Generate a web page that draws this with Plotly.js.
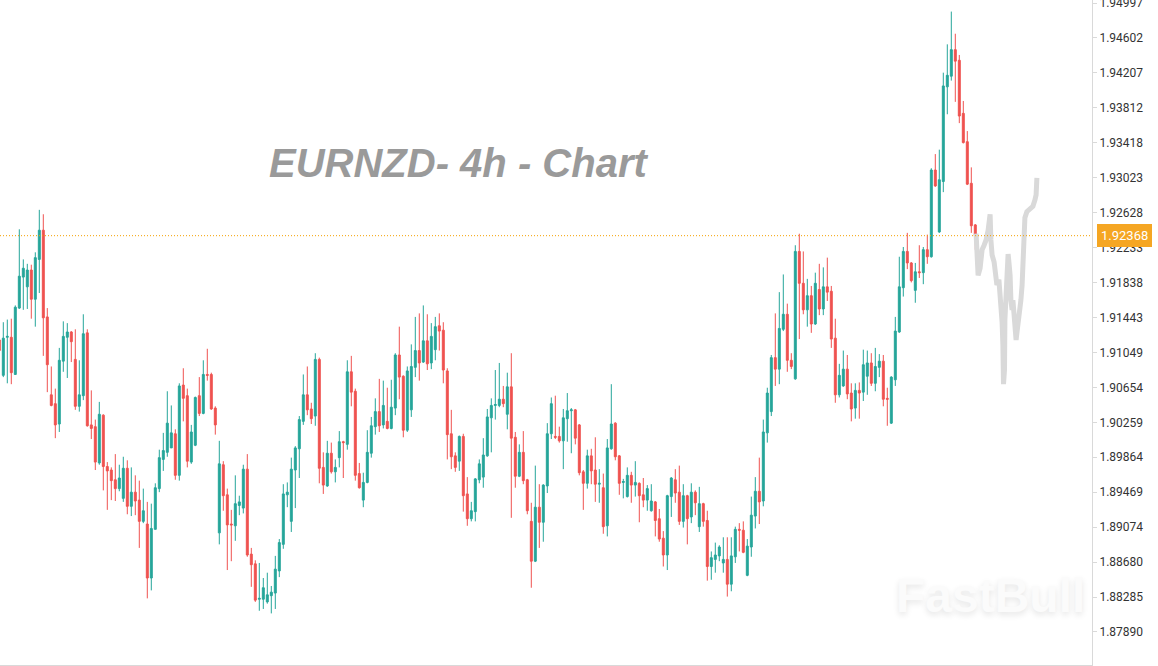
<!DOCTYPE html>
<html>
<head>
<meta charset="utf-8">
<script src="https://cdn.plot.ly/plotly-3.0.1.min.js"></script>
<style>
  html, body { margin: 0; padding: 0; background: #ffffff; }
  #chart { width: 1158px; height: 666px; }
</style>
</head>
<body>
<div id="chart"></div>
<script>
// EURNZD 4h candles (left to right)
const openP = [1.9119,1.9079,1.9122,1.9122,1.9080,1.9155,1.9190,1.9179,1.9198,1.9165,
1.9210,1.9243,1.9145,1.9057,1.9047,1.9024,1.9095,1.9122,1.9128,1.9097,
1.9044,1.9056,1.9127,1.9023,1.9021,1.8980,1.9034,1.8976,1.8972,1.8961,
1.8951,1.8940,1.8974,1.8931,1.8947,1.8938,1.8914,1.8911,1.8850,1.8905,
1.8951,1.8984,1.8992,1.8997,1.9013,1.8966,1.9068,1.9056,1.8981,1.9000,
1.9056,1.9036,1.9080,1.9080,1.9042,1.8901,1.8978,1.8944,1.8911,1.8909,
1.8932,1.8929,1.8973,1.8877,1.8866,1.8826,1.8826,1.8823,1.8830,1.8833,
1.8858,1.8888,1.8944,1.8914,1.8972,1.8996,1.9027,1.9057,1.9041,1.9033,
1.9097,1.8975,1.8954,1.8991,1.8970,1.8986,1.9004,1.9001,1.9083,1.9061,
1.8968,1.8938,1.8958,1.8991,1.9021,1.9038,1.9023,1.9027,1.9019,1.9042,
1.9102,1.9078,1.9017,1.9040,1.9088,1.9107,1.9094,1.9118,1.9093,1.9108,
1.9135,1.9130,1.9084,1.9013,1.8988,1.8982,1.9010,1.8945,1.8917,1.8925,
1.8961,1.8964,1.8988,1.9031,1.9045,1.9045,1.9052,1.9035,1.9066,1.9009,
1.8965,1.8992,1.8961,1.8914,1.8869,1.8930,1.8913,1.8954,1.9013,1.9010,
1.9010,1.9005,1.9030,1.9039,1.9040,1.9023,1.8970,1.8957,1.8988,1.8972,
1.8956,1.8952,1.8909,1.8996,1.9025,1.8988,1.8958,1.8942,1.8966,1.8955,
1.8957,1.8944,1.8938,1.8926,1.8936,1.8917,1.8895,1.8876,1.8942,1.8961,
1.8947,1.8914,1.8943,1.8919,1.8947,1.8908,1.8934,1.8915,1.8863,1.8871,
1.8875,1.8867,1.8871,1.8843,1.8874,1.8905,1.8904,1.8853,1.8885,1.8920,
1.8948,1.8937,1.9014,1.9038,1.9099,1.9086,1.9131,1.9148,1.9096,1.9075,
1.9219,1.9183,1.9153,1.9169,1.9137,1.9176,1.9154,1.9179,1.9174,1.9121,
1.9057,1.9067,1.9086,1.9059,1.9042,1.9062,1.9060,1.9078,1.9093,1.9070,
1.9088,1.9095,1.9053,1.9025,1.9074,1.9128,1.9178,1.9219,1.9206,1.9175,
1.9196,1.9195,1.9221,1.9213,1.9311,1.9241,1.9298,1.9405,1.9417,1.9447,
1.9435,1.9375,1.9343,1.9296,1.9249];

const highP = [1.9125,1.9139,1.9142,1.9143,1.9158,1.9244,1.9210,1.9205,1.9204,1.9218,
1.9266,1.9261,1.9155,1.9089,1.9064,1.9110,1.9140,1.9138,1.9129,1.9131,
1.9096,1.9148,1.9131,1.9062,1.9029,1.9049,1.9035,1.8981,1.8975,1.8990,
1.8978,1.8987,1.8983,1.8975,1.8966,1.8960,1.8951,1.8936,1.8934,1.8957,
1.8995,1.9014,1.9061,1.9045,1.9018,1.9070,1.9087,1.9064,1.9023,1.9055,
1.9077,1.9096,1.9109,1.9082,1.9044,1.9005,1.8982,1.8951,1.8927,1.8966,
1.8943,1.8978,1.8990,1.8884,1.8870,1.8867,1.8850,1.8856,1.8841,1.8875,
1.8894,1.8956,1.8958,1.8986,1.8999,1.9033,1.9080,1.9089,1.9048,1.9104,
1.9099,1.8992,1.9005,1.9003,1.8984,1.9016,1.9005,1.9096,1.9101,1.9064,
1.8980,1.8969,1.9017,1.9032,1.9053,1.9075,1.9073,1.9065,1.9074,1.9104,
1.9134,1.9079,1.9089,1.9114,1.9145,1.9149,1.9158,1.9148,1.9138,1.9145,
1.9149,1.9139,1.9087,1.9040,1.8992,1.9011,1.9013,1.8964,1.8936,1.8963,
1.8984,1.9008,1.9041,1.9053,1.9085,1.9093,1.9067,1.9082,1.9104,1.9015,
1.9001,1.9016,1.8962,1.8935,1.8977,1.8956,1.8956,1.9025,1.9054,1.9056,
1.9021,1.9041,1.9059,1.9042,1.9041,1.9024,1.8972,1.8995,1.8996,1.9009,
1.8973,1.8968,1.9007,1.9069,1.9026,1.8989,1.8962,1.8975,1.8970,1.8982,
1.8958,1.8963,1.8955,1.8956,1.8937,1.8928,1.8903,1.8944,1.8964,1.8973,
1.8977,1.8956,1.8944,1.8957,1.8949,1.8953,1.8935,1.8926,1.8880,1.8890,
1.8887,1.8896,1.8896,1.8896,1.8908,1.8912,1.8914,1.8894,1.8942,1.8964,
1.8986,1.9029,1.9065,1.9102,1.9149,1.9173,1.9193,1.9160,1.9104,1.9226,
1.9239,1.9219,1.9188,1.9180,1.9195,1.9205,1.9201,1.9212,1.9180,1.9143,
1.9092,1.9107,1.9102,1.9070,1.9070,1.9071,1.9108,1.9107,1.9104,1.9110,
1.9103,1.9102,1.9065,1.9078,1.9145,1.9213,1.9224,1.9240,1.9207,1.9206,
1.9226,1.9224,1.9238,1.9313,1.9329,1.9334,1.9421,1.9453,1.9490,1.9465,
1.9441,1.9389,1.9355,1.9314,1.9250];

const lowP = [1.9101,1.9077,1.9070,1.9069,1.9080,1.9154,1.9153,1.9154,1.9143,1.9134,
1.9172,1.9101,1.9060,1.9044,1.9008,1.9015,1.9083,1.9076,1.9094,1.9040,
1.9038,1.9051,1.9021,1.9007,1.8972,1.8978,1.8949,1.8927,1.8938,1.8937,
1.8948,1.8936,1.8922,1.8920,1.8921,1.8884,1.8912,1.8827,1.8836,1.8905,
1.8947,1.8971,1.8987,1.8997,1.8961,1.8960,1.9027,1.8975,1.8979,1.8999,
1.9033,1.9035,1.9073,1.9040,1.9012,1.8888,1.8926,1.8859,1.8869,1.8892,
1.8921,1.8923,1.8874,1.8840,1.8823,1.8813,1.8815,1.8821,1.8810,1.8815,
1.8851,1.8883,1.8930,1.8902,1.8929,1.8963,1.9023,1.9034,1.9024,1.9022,
1.8957,1.8945,1.8953,1.8968,1.8958,1.8975,1.8963,1.8995,1.9044,1.8960,
1.8951,1.8930,1.8957,1.8986,1.9012,1.9015,1.9019,1.9018,1.9018,1.9034,
1.9052,1.9009,1.9015,1.9032,1.9077,1.9073,1.9093,1.9085,1.9086,1.9096,
1.9107,1.9070,1.8984,1.8973,1.8970,1.8971,1.8925,1.8909,1.8914,1.8914,
1.8957,1.8952,1.8987,1.8992,1.9029,1.9043,1.9043,1.9018,1.8918,1.8952,
1.8964,1.8956,1.8922,1.8839,1.8868,1.8884,1.8891,1.8946,1.9007,1.9007,
1.9003,1.8973,1.9004,1.8991,1.9001,1.8966,1.8927,1.8951,1.8956,1.8936,
1.8935,1.8900,1.8897,1.8995,1.8983,1.8944,1.8940,1.8941,1.8935,1.8942,
1.8913,1.8930,1.8926,1.8925,1.8897,1.8891,1.8863,1.8859,1.8919,1.8935,
1.8910,1.8907,1.8888,1.8912,1.8921,1.8902,1.8908,1.8847,1.8848,1.8856,
1.8869,1.8856,1.8829,1.8835,1.8867,1.8880,1.8878,1.8852,1.8874,1.8906,
1.8911,1.8931,1.9003,1.9033,1.9067,1.9069,1.9129,1.9083,1.9086,1.9074,
1.9120,1.9148,1.9134,1.9127,1.9136,1.9147,1.9147,1.9163,1.9110,1.9048,
1.9054,1.9066,1.9052,1.9027,1.9030,1.9030,1.9050,1.9057,1.9067,1.9061,
1.9077,1.9044,1.9022,1.9024,1.9067,1.9127,1.9168,1.9199,1.9184,1.9161,
1.9189,1.9182,1.9205,1.9212,1.9292,1.9240,1.9286,1.9374,1.9412,1.9388,
1.9364,1.9341,1.9294,1.9240,1.9221];

const closeP = [1.9107,1.9121,1.9123,1.9082,1.9156,1.9191,1.9200,1.9198,1.9165,1.9212,
1.9243,1.9144,1.9091,1.9045,1.9023,1.9096,1.9123,1.9128,1.9117,1.9044,
1.9057,1.9126,1.9022,1.9019,1.8981,1.9035,1.8976,1.8971,1.8960,1.8951,
1.8963,1.8974,1.8931,1.8947,1.8937,1.8914,1.8926,1.8850,1.8906,1.8952,
1.8986,1.8994,1.9025,1.9014,1.8966,1.9067,1.9053,1.8982,1.9015,1.9054,
1.9036,1.9080,1.9079,1.9041,1.9023,1.8979,1.8943,1.8910,1.8910,1.8934,
1.8936,1.8973,1.8876,1.8865,1.8825,1.8827,1.8839,1.8831,1.8834,1.8860,
1.8890,1.8945,1.8947,1.8973,1.8997,1.9029,1.9057,1.9040,1.9030,1.9097,
1.8974,1.8955,1.8991,1.8970,1.8975,1.9004,1.9003,1.9083,1.9060,1.8966,
1.8952,1.8958,1.8992,1.9022,1.9038,1.9022,1.9045,1.9019,1.9043,1.9102,
1.9077,1.9017,1.9084,1.9089,1.9107,1.9093,1.9118,1.9092,1.9123,1.9134,
1.9129,1.9085,1.9012,1.8987,1.8975,1.9010,1.8943,1.8917,1.8926,1.8962,
1.8979,1.8989,1.9032,1.9045,1.9046,1.9052,1.9047,1.9066,1.9008,1.8965,
1.8992,1.8960,1.8926,1.8869,1.8930,1.8913,1.8955,1.9013,1.9047,1.9009,
1.9005,1.9031,1.9039,1.9040,1.9008,1.8969,1.8957,1.8988,1.8971,1.8956,
1.8957,1.8908,1.8997,1.9024,1.8987,1.8957,1.8959,1.8966,1.8955,1.8958,
1.8943,1.8938,1.8951,1.8937,1.8915,1.8894,1.8876,1.8943,1.8963,1.8946,
1.8914,1.8943,1.8917,1.8947,1.8935,1.8934,1.8914,1.8863,1.8873,1.8876,
1.8885,1.8871,1.8843,1.8875,1.8905,1.8904,1.8879,1.8886,1.8921,1.8948,
1.8936,1.9015,1.9059,1.9099,1.9086,1.9132,1.9148,1.9096,1.9089,1.9219,
1.9183,1.9153,1.9169,1.9137,1.9183,1.9154,1.9179,1.9173,1.9120,1.9057,
1.9079,1.9086,1.9058,1.9041,1.9062,1.9059,1.9091,1.9093,1.9070,1.9089,
1.9095,1.9052,1.9052,1.9077,1.9129,1.9179,1.9219,1.9206,1.9186,1.9196,
1.9195,1.9221,1.9213,1.9311,1.9293,1.9300,1.9406,1.9418,1.9447,1.9434,
1.9372,1.9342,1.9295,1.9248,1.92368];

// light grey preview path to the right of the last candle (bar positions, prices)
const ghostBar = [244.2,244.4,244.7,245.2,245.7,246.2,246.7,247.2,247.4,247.7,
247.9,248.2,248.7,248.9,249.4,249.9,250.2,250.4,250.7,250.9,
251.05,251.3,251.4,251.7,252.2,252.4,252.7,252.9,253.2,253.4,
253.7,253.9,254.2,254.4,254.7,254.9,255.2,255.4,255.7,255.9,
256.2,256.4,256.9,257.7,258.4,258.9,259.2,259.4];
const ghostPrice = [1.9239,1.9207,1.9192,1.9200,1.9221,1.9226,1.9232,1.9243,1.9261,1.9261,
1.9232,1.9215,1.9207,1.9198,1.9181,1.9187,1.9173,1.9158,1.9139,1.9113,
1.9069,1.9085,1.9142,1.9187,1.9216,1.9207,1.9192,1.9164,1.9153,1.9164,
1.9142,1.9136,1.9119,1.9127,1.9136,1.9142,1.9153,1.9164,1.9181,1.9207,
1.9243,1.9257,1.9264,1.9268,1.9270,1.9277,1.9283,1.9302];

const priceTicks = [1.87890,1.88285,1.88680,1.89074,1.89469,1.89864,1.90259,1.90654,
1.91049,1.91443,1.91838,1.92233,1.92628,1.93023,1.93418,1.93812,1.94207,1.94602,1.94997];

const lastPrice = 1.92368;
const titleText = 'EURNZD- 4h - Chart';
const watermark = 'FastBull';

const barIndex = openP.map((_, i) => i);

const candles = {
  type: 'candlestick',
  x: barIndex,
  open: openP, high: highP, low: lowP, close: closeP,
  increasing: { line: { color: '#26a69a', width: 1 }, fillcolor: '#26a69a' },
  decreasing: { line: { color: '#ef5350', width: 1 }, fillcolor: '#ef5350' },
  whiskerwidth: 0,
  hoverinfo: 'skip',
  showlegend: false
};

const ghost = {
  type: 'scatter', mode: 'lines',
  x: ghostBar, y: ghostPrice,
  line: { color: '#d9d9d9', width: 5, shape: 'linear' },
  hoverinfo: 'skip', showlegend: false
};

const layout = {
  width: 1158, height: 666,
  margin: { l: 0, r: 66, t: 0, b: 1, pad: 0 },
  paper_bgcolor: '#ffffff', plot_bgcolor: '#ffffff',
  showlegend: false,
  xaxis: {
    range: [0.175, 273.175],
    showgrid: false, zeroline: false, showticklabels: false, ticks: '',
    showline: true, linecolor: '#d9d9d9', linewidth: 1,
    rangeslider: { visible: false }, fixedrange: true
  },
  yaxis: {
    side: 'right',
    range: [1.87517, 1.95031],
    tickvals: priceTicks, tickformat: '.5f',
    ticklabeloverflow: 'allow',
    showgrid: false, zeroline: false,
    showline: true, linecolor: '#d9d9d9', linewidth: 1,
    ticks: 'outside', ticklen: 4, tickcolor: '#d9d9d9',
    tickfont: { family: 'Roboto, Arial, sans-serif', size: 12, color: '#333333' },
    fixedrange: true
  },
  shapes: [{
    type: 'line', xref: 'paper', x0: 0, x1: 1, yref: 'y', y0: lastPrice, y1: lastPrice,
    line: { color: '#f5a000', width: 1, dash: '1px,2px' }
  }],
  annotations: [
    {
      text: '<b><i>' + titleText + '</i></b>', xref: 'paper', yref: 'paper',
      x: 0.4203, y: 0.7549, xanchor: 'center', yanchor: 'middle', showarrow: false,
      font: { family: 'Liberation Sans, Arial, sans-serif', size: 40, color: '#9a9a9a' }
    },
    {
      text: '<b>' + watermark + '</b>', xref: 'paper', yref: 'paper',
      x: 0.9075, y: 0.1038, xanchor: 'center', yanchor: 'middle', showarrow: false,
      font: { family: 'Liberation Sans, Arial, sans-serif', size: 48, color: '#fbfbfb',
              shadow: '0px 3px 6px rgba(0,0,0,0.10)' }
    },
    {
      text: lastPrice.toFixed(5), xref: 'paper', yref: 'y',
      x: 1, y: lastPrice, xanchor: 'left', yanchor: 'middle', xshift: 5,
      showarrow: false, bgcolor: '#f5a623', bordercolor: '#f5a623', borderpad: 3,
      font: { family: 'Roboto, Arial, sans-serif', size: 13, color: '#ffffff' }
    }
  ]
};

Plotly.newPlot('chart', [candles, ghost], layout, { displayModeBar: false, staticPlot: true });
</script>
</body>
</html>
